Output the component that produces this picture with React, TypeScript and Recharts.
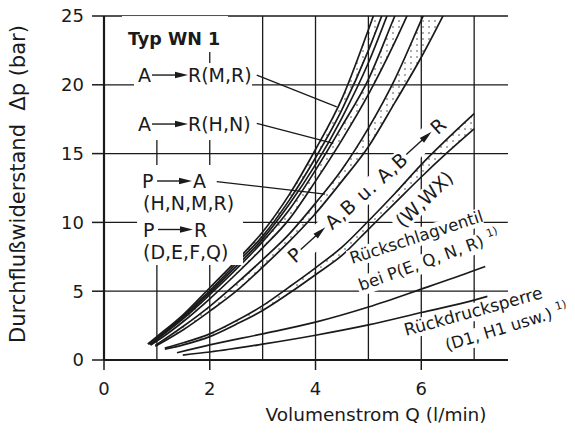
import { ComposedChart, Line, Area, XAxis, YAxis, CartesianGrid, ReferenceLine, ReferenceDot, Label } from 'recharts';

// flow values, Q in l/min and dp in bar
// A -> R (M,R) band
const mrX = [0.83, 1.0, 1.5, 2.0, 2.5, 3.0, 3.5, 4.0, 4.5, 5.0, 5.3];
const mrUpper = [1.17, 1.7, 3.3, 5.25, 7.2, 9.3, 12.0, 15.3, 19.0, 24.0, 27.2];
const mrLower = [1.15, 1.62, 3.2, 5.04, 7.0, 9.0, 11.6, 14.7, 18.2, 22.5, 25.5];

// single line between the two A -> R bands
const paX = [0.86, 1.0, 1.5, 2.0, 2.5, 3.0, 3.5, 4.0, 4.5, 5.0, 5.4];
const paY = [1.12, 1.55, 3.1, 4.9, 6.8, 8.8, 11.3, 14.2, 17.6, 21.6, 25.5];

// A -> R (H,N) band
const hnX = [0.88, 1.0, 1.5, 2.0, 2.5, 3.0, 3.5, 4.0, 4.5, 5.0, 5.5, 5.8];
const hnUpper = [1.1, 1.48, 3.0, 4.75, 6.6, 8.6, 10.9, 13.8, 17.0, 20.4, 25.0, 27.7];
const hnLower = [1.08, 1.38, 2.8, 4.45, 6.25, 8.15, 10.22, 13.0, 16.0, 19.3, 23.1, 25.6];

// P -> A / P -> R band
const prX = [0.97, 1.5, 2.0, 2.5, 3.0, 3.5, 4.0, 4.5, 5.0, 5.5, 6.0, 6.45];
const prUpper = [1.05, 2.45, 3.9, 5.55, 7.3, 9.15, 11.4, 13.85, 16.85, 20.4, 24.7, 28.6];
const prLower = [1.0, 2.2, 3.55, 5.0, 6.75, 8.6, 10.65, 13.0, 15.5, 18.7, 22.0, 25.3];

// P -> A,B u. A,B -> R (W,WX) band
const wwX = [1.15, 1.5, 2.0, 2.5, 3.0, 3.5, 4.0, 4.5, 5.0, 5.5, 6.0, 6.5, 7.0];
const wwUpper = [0.86, 1.25, 1.9, 2.85, 3.95, 5.3, 6.7, 8.2, 10.1, 12.1, 14.2, 16.1, 17.9];
const wwLower = [0.78, 1.1, 1.7, 2.6, 3.6, 4.85, 6.2, 7.6, 9.5, 11.4, 13.3, 15.1, 16.8];

// Rückschlagventil
const rsX = [1.38, 2.0, 3.0, 4.0, 5.0, 6.0, 7.0, 7.21];
const rsY = [0.53, 1.1, 1.9, 2.75, 3.85, 5.15, 6.5, 6.8];

// Rückdrucksperre
const rdX = [1.49, 2.0, 3.0, 4.0, 5.0, 6.0, 7.0, 7.25];
const rdY = [0.36, 0.58, 1.15, 1.8, 2.55, 3.45, 4.35, 4.62];

const xTicks = [0, 2, 4, 6];
const yTicks = [0, 5, 10, 15, 20, 25];
const gridX = [1, 2, 3, 4, 5, 6, 7];
const gridY = [5, 10, 15, 20, 25];

const INK = '#1a1a1a';
const FONT = '"DejaVu Sans", sans-serif';

const band = (xs: number[], upper: number[], lower: number[]) =>
  xs.map((x, i) => ({ x, hi: upper[i], lo: lower[i], range: [lower[i], upper[i]] }));
const curve = (xs: number[], ys: number[]) => xs.map((x, i) => ({ x, y: ys[i] }));

const bands = [
  band(mrX, mrUpper, mrLower),
  band(hnX, hnUpper, hnLower),
  band(prX, prUpper, prLower),
  band(wwX, wwUpper, wwLower),
];
const singles = [curve(paX, paY), curve(rsX, rsY), curve(rdX, rdY)];

function Arrow({ x1, x2, y }: { x1: number; x2: number; y: number }) {
  return (
    <g>
      <line x1={x1} y1={y} x2={x2 - 10} y2={y} stroke={INK} strokeWidth={1.4} />
      <polygon points={`${x2 - 13},${y - 3.2} ${x2},${y} ${x2 - 13},${y + 3.2}`} fill={INK} />
    </g>
  );
}

const txt = { fill: INK, fontFamily: FONT, fontSize: 19 };

const at = (p: any, rot: number, children: any) => (
  <g transform={`translate(${p.cx},${p.cy}) rotate(${rot})`}>{children}</g>
);

const typLabel = (p: any) =>
  at(p, 0, <>
    <rect x={-6} y={-29} width={106} height={36} fill="#fff" />
    <rect x={6} y={6} width={40} height={13} fill="#fff" />
    <text {...txt} fontSize={17.5} fontWeight={700}>Typ WN 1</text>
  </>);

const mrLabel = (p: any) =>
  at(p, 0, <>
    <rect x={-4} y={-19} width={118} height={77} fill="#fff" />
    <text {...txt}>A</text>
    <Arrow x1={14} x2={50} y={-7} />
    <text {...txt} x={50}>R(M,R)</text>
  </>);

const hnLabel = (p: any) =>
  at(p, 0, <>
    <text {...txt}>A</text>
    <Arrow x1={14} x2={50} y={-7} />
    <text {...txt} x={50}>R(H,N)</text>
  </>);

const paLabel = (p: any) =>
  at(p, 0, <>
    <rect x={-5} y={-23} width={76} height={31} fill="#fff" />
    <rect x={-5} y={7} width={106} height={70} fill="#fff" />
    <text {...txt}>P</text>
    <Arrow x1={15} x2={50} y={-7} />
    <text {...txt} x={51}>A</text>
    <text {...txt} x={1} y={22}>(H,N,M,R)</text>
    <text {...txt} x={1} y={48.5}>P</text>
    <Arrow x1={16} x2={51} y={41.5} />
    <text {...txt} x={52} y={48.5}>R</text>
    <text {...txt} x={1} y={71}>(D,E,F,Q)</text>
  </>);

const wLabel = (p: any) =>
  at(p, -42, <>
    <rect x={-3} y={-16} width={212} height={21} fill="#fff" />
    <text {...txt}>P</text>
    <Arrow x1={14} x2={47} y={-7} />
    <text {...txt} x={50} letterSpacing={1}>A,B u. A,B</text>
    <Arrow x1={156} x2={190} y={-7} />
    <text {...txt} x={192}>R</text>
  </>);

const wwLabel = (p: any) =>
  at(p, -44, <>
    <rect x={-39} y={-9} width={78} height={19} fill="#fff" />
    <text {...txt} y={7} textAnchor="middle">(W,WX)</text>
  </>);

const sup = (s: string) => <tspan fontSize={11} dy={-7}>{s}</tspan>;

const rs1Label = (p: any) =>
  at(p, -18, <>
    <rect x={-2} y={-14} width={140} height={18} fill="#fff" />
    <text {...txt} fontSize={16.5}>Rückschlagventil</text>
  </>);

const rs2Label = (p: any) =>
  at(p, -20, <>
    <rect x={-2} y={-14} width={165} height={19} fill="#fff" />
    <text {...txt} fontSize={16.5}>bei P(E, Q, N, R) {sup('1)')}</text>
  </>);

const rd1Label = (p: any) =>
  at(p, -15.5, <>
    <rect x={-2} y={-14} width={147} height={18} fill="#fff" />
    <text {...txt} fontSize={17}>Rückdrucksperre</text>
  </>);

const rd2Label = (p: any) =>
  at(p, -17, <>
    <rect x={-2} y={-14} width={130} height={19} fill="#fff" />
    <text {...txt} fontSize={16.5}>(D1, H1 usw.) {sup('1)')}</text>
  </>);

export default function App() {
  return (
    <div style={{ position: 'absolute', left: 0, top: 0, background: '#fff' }}>
      <ComposedChart width={575} height={434} margin={{ top: 16, right: 67, bottom: 24, left: 0 }}>
        <defs>
          <pattern id="dots" width={6} height={6} patternUnits="userSpaceOnUse">
            <circle cx={3} cy={3} r={0.7} fill={INK} />
          </pattern>
        </defs>
        <CartesianGrid
          stroke={INK}
          strokeWidth={1.3}
          verticalValues={gridX}
          horizontalValues={gridY}
        />
        <XAxis
          type="number"
          dataKey="x"
          domain={[0, 7.64]}
          ticks={xTicks}
          allowDataOverflow
          height={50}
          tickSize={10}
          tickMargin={12}
          axisLine={{ stroke: INK, strokeWidth: 2.2 }}
          tickLine={{ stroke: INK, strokeWidth: 1.5 }}
          tick={{ fill: INK, fontSize: 18, fontFamily: FONT }}
        >
          <Label
            content={({ viewBox }: any) => (
              <text x={viewBox.x + 272} y={viewBox.y + 61} textAnchor="middle" fill={INK} fontSize={18.5} fontFamily={FONT}>
                Volumenstrom Q (l/min)
              </text>
            )}
          />
        </XAxis>
        <YAxis
          type="number"
          domain={[0, 25]}
          ticks={yTicks}
          allowDataOverflow
          width={104}
          tickSize={12}
          tickMargin={8}
          axisLine={{ stroke: INK, strokeWidth: 2.2 }}
          tickLine={{ stroke: INK, strokeWidth: 1.5 }}
          tick={{ fill: INK, fontSize: 18, fontFamily: FONT }}
        >
          <Label
            content={() => (
              <text x={25} y={184} transform="rotate(-90 25 184)" textAnchor="middle" fill={INK} fontSize={21} fontFamily={FONT} xmlSpace="preserve">
                Durchflußwiderstand  Δp (bar)
              </text>
            )}
          />
        </YAxis>

        {bands.map((b, i) => (
          <Area key={'a' + i} data={b} dataKey="range" type="monotone" stroke="none" fill="url(#dots)" fillOpacity={1} isAnimationActive={false} />
        ))}
        {bands.map((b, i) => (
          <Line key={'h' + i} data={b} dataKey="hi" type="monotone" stroke={INK} strokeWidth={1.7} dot={false} isAnimationActive={false} />
        ))}
        {bands.map((b, i) => (
          <Line key={'l' + i} data={b} dataKey="lo" type="monotone" stroke={INK} strokeWidth={1.7} dot={false} isAnimationActive={false} />
        ))}
        {singles.map((c, i) => (
          <Line key={'s' + i} data={c} dataKey="y" type="monotone" stroke={INK} strokeWidth={1.7} dot={false} isAnimationActive={false} />
        ))}

        <ReferenceDot x={0.454} y={22.89} r={0} ifOverflow="visible" shape={typLabel} />
        <ReferenceDot x={0.643} y={20.2} r={0} ifOverflow="visible" shape={mrLabel} />
        <ReferenceDot x={0.643} y={16.64} r={0} ifOverflow="visible" shape={hnLabel} />
        <ReferenceDot x={0.719} y={12.5} r={0} ifOverflow="visible" shape={paLabel} />
        <ReferenceDot x={3.613} y={6.977} r={0} ifOverflow="visible" shape={wLabel} />
        <ReferenceDot x={6.054} y={11.7} r={0} ifOverflow="visible" shape={wwLabel} />
        <ReferenceDot x={4.692} y={6.977} r={0} ifOverflow="visible" shape={rs1Label} />
        <ReferenceDot x={4.862} y={5.015} r={0} ifOverflow="visible" shape={rs2Label} />
        <ReferenceDot x={5.713} y={1.744} r={0} ifOverflow="visible" shape={rd1Label} />
        <ReferenceDot x={6.489} y={0.654} r={0} ifOverflow="visible" shape={rd2Label} />

        <ReferenceLine segment={[{ x: 2.889, y: 20.71 }, { x: 4.402, y: 18.4 }]} stroke={INK} strokeWidth={1.3} ifOverflow="visible" />
        <ReferenceLine segment={[{ x: 2.889, y: 17.19 }, { x: 4.337, y: 15.75 }]} stroke={INK} strokeWidth={1.3} ifOverflow="visible" />
        <ReferenceLine segment={[{ x: 2.132, y: 12.96 }, { x: 4.181, y: 12.06 }]} stroke={INK} strokeWidth={1.3} ifOverflow="visible" />
      </ComposedChart>
    </div>
  );
}
